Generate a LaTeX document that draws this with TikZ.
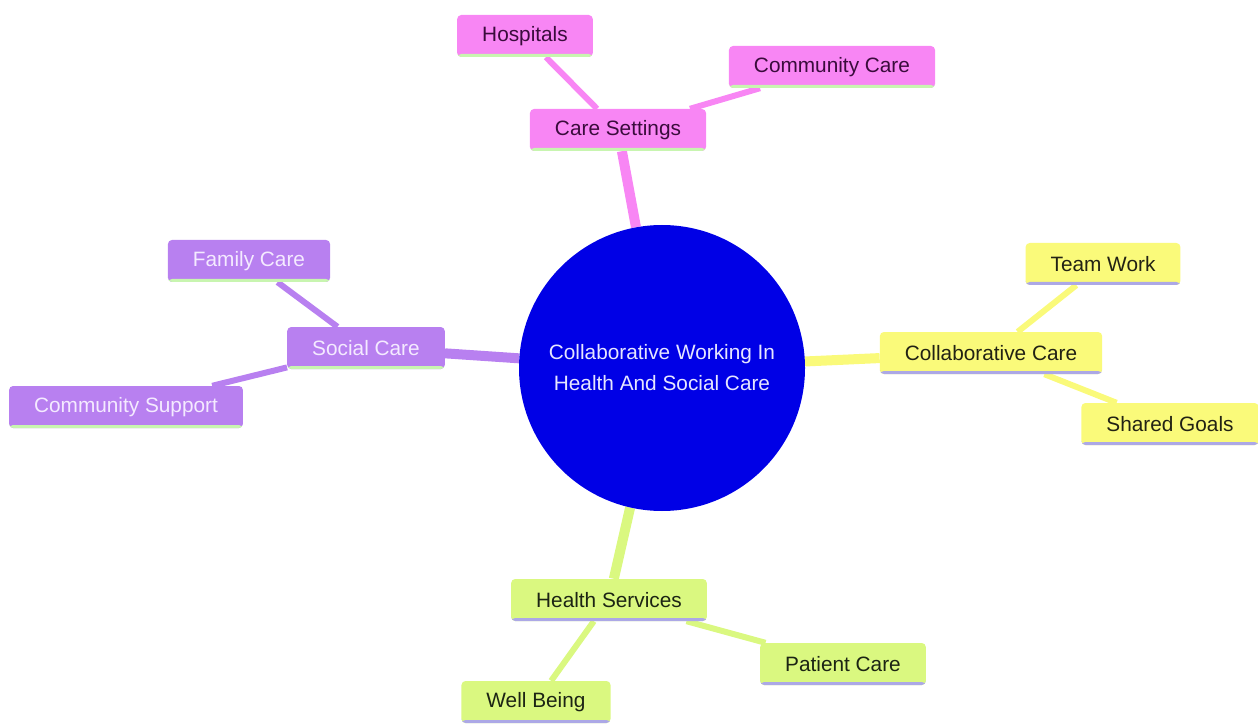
\documentclass[tikz,border=0pt]{standalone}
\usepackage{fontspec}
\setmainfont{Liberation Sans}
\definecolor{pinkf}{RGB}{248,134,244}
\definecolor{pinkt}{RGB}{58,12,60}
\definecolor{purpf}{RGB}{184,128,240}
\definecolor{purpt}{RGB}{244,234,255}
\definecolor{yelf}{RGB}{250,250,122}
\definecolor{yelt}{RGB}{34,34,20}
\definecolor{grnf}{RGB}{218,248,128}
\definecolor{grnt}{RGB}{28,36,20}
\definecolor{lgrn}{RGB}{200,245,176}
\definecolor{lav}{RGB}{172,168,230}
\definecolor{core}{RGB}{0,0,230}
\definecolor{coret}{RGB}{230,230,255}
\pgfdeclarelayer{bg}\pgfsetlayers{bg,main}
\tikzset{
  box/.style={rectangle, rounded corners=4pt, inner xsep=25pt, inner ysep=0pt,
    minimum height=42pt, font=\fontsize{20.8}{24}\selectfont},
  uline/.style={path picture={\fill[#1] (path picture bounding box.south west) rectangle ([yshift=3pt]path picture bounding box.south east);}},
  pinkbox/.style={box, fill=pinkf, text=pinkt, uline=lgrn},
  purpbox/.style={box, fill=purpf, text=purpt, uline=lgrn},
  yelbox/.style={box, fill=yelf, text=yelt, uline=lav},
  grnbox/.style={box, fill=grnf, text=grnt, uline=lav},
  mainedge/.style={line width=10pt, draw=#1},
  subedge/.style={line width=6pt, draw=#1},
}
\begin{document}
\begin{tikzpicture}[x=1pt,y=-1pt]
\useasboundingbox (0,0) rectangle (1258,727);
% nodes
\node[circle, fill=core, text=coret, minimum size=286pt, align=center,
  font=\fontsize{20.8}{31}\selectfont] (c) at (662,368)
  {Collaborative Working In\\ Health And Social Care};
\node[pinkbox] (cs) at (618,130) {Care Settings};
\node[pinkbox] (hosp) at (525,36) {Hospitals};
\node[pinkbox] (cc) at (832,67) {Community Care};
\node[purpbox] (sc) at (366,348) {Social Care};
\node[purpbox] (fc) at (249,261) {Family Care};
\node[purpbox] (csup) at (126,407) {Community Support};
\node[yelbox] (col) at (991,353) {Collaborative Care};
\node[yelbox] (tw) at (1103,264) {Team Work};
\node[yelbox] (sg) at (1170,424) {Shared Goals};
\node[grnbox] (hs) at (609,600) {Health Services};
\node[grnbox] (pc) at (843,664) {Patient Care};
\node[grnbox] (wb) at (536,702) {Well Being};
% edges behind the nodes
\begin{pgfonlayer}{bg}
\draw[mainedge=pinkf] (c) -- (cs);
\draw[mainedge=purpf] (c) -- (sc);
\draw[mainedge=yelf] (c) -- (col);
\draw[mainedge=grnf] (c) -- (hs);
\draw[subedge=pinkf] (cs) -- (hosp);
\draw[subedge=pinkf] (cs) -- (cc);
\draw[subedge=purpf] (sc) -- (fc);
\draw[subedge=purpf] (sc) -- (csup);
\draw[subedge=yelf] (col) -- (tw);
\draw[subedge=yelf] (col) -- (sg);
\draw[subedge=grnf] (hs) -- (pc);
\draw[subedge=grnf] (hs) -- (wb);
\end{pgfonlayer}
\end{tikzpicture}
\end{document}
